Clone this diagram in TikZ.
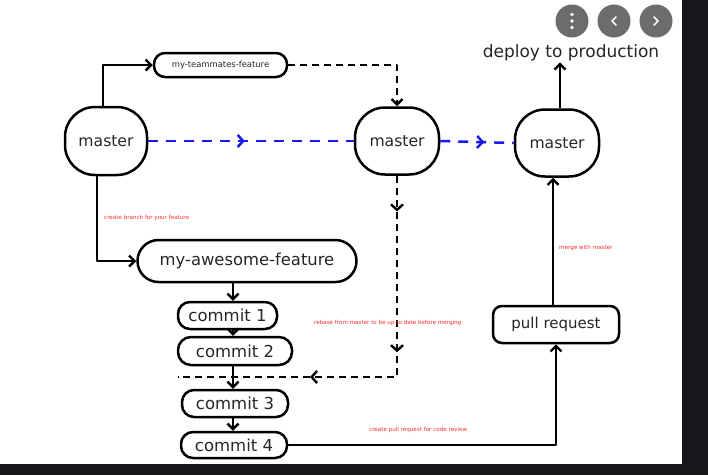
\documentclass[tikz,border=0pt]{standalone}
\usepackage{fontspec}
\setmainfont{DejaVu Sans}
\usetikzlibrary{arrows.meta,decorations.markings,calc}
\definecolor{lblred}{RGB}{250,45,45}
\definecolor{dashblue}{RGB}{25,25,235}
\definecolor{bgdark}{RGB}{23,24,27}
\definecolor{btngray}{RGB}{108,108,108}
\begin{document}
\begin{tikzpicture}[x=1pt,y=-1pt,
  blob/.style={draw,line width=2.5pt,inner sep=0pt,fill=white,text=black!85},
  conn/.style={line width=2.4pt,line join=round,-{Straight Barb[length=5.5pt,width=11pt]}},
  dsh/.style={line width=2.4pt,dash pattern=on 7pt off 5pt},
  bluedsh/.style={line width=2.5pt,dashblue,dash pattern=on 10pt off 8pt},
  lbl/.style={lblred,font=\fontsize{5.6}{6}\selectfont,anchor=west,inner sep=0pt},
  btn/.style={fill=btngray,draw=none}
]
\useasboundingbox (0,0) rectangle (708,475);
\fill[bgdark] (0,0) rectangle (708,475);
\fill[white] (0,0) rectangle (682,464);

% screenshot buttons
\fill[btn] (572,21) circle (16.5);
\fill[btn] (614,21) circle (16.5);
\fill[btn] (656,21) circle (16.5);
\fill[white] (572,14.5) circle (1.8) (572,21) circle (1.8) (572,27.5) circle (1.8);
\draw[white,line width=1.6pt,line cap=round,line join=round] (616,17) -- (612,21) -- (616,25);
\draw[white,line width=1.6pt,line cap=round,line join=round] (654,17) -- (658,21) -- (654,25);

% nodes
\node[blob,minimum width=82pt,minimum height=68pt,rounded corners=30pt,font=\fontsize{15.6}{18}\selectfont] (m1) at (106,141) {master};
\node[blob,minimum width=84pt,minimum height=67pt,rounded corners=30pt,font=\fontsize{15.6}{18}\selectfont] (m2) at (397,141) {master};
\node[blob,minimum width=84pt,minimum height=67pt,rounded corners=30pt,font=\fontsize{15.6}{18}\selectfont] (m3) at (557,143) {master};
\node[blob,minimum width=133pt,minimum height=24pt,rounded corners=11pt,font=\fontsize{8.4}{10}\selectfont] (tf) at (220.5,65) {my-teammates-feature};
\node[blob,minimum width=219pt,minimum height=42pt,rounded corners=21pt,font=\fontsize{16.4}{19}\selectfont] (aw) at (247,261) {my-awesome-feature};
\node[blob,minimum width=99pt,minimum height=27pt,rounded corners=12pt,font=\fontsize{16.5}{19}\selectfont] (c1) at (227.5,315.5) {commit 1};
\node[blob,minimum width=114pt,minimum height=28pt,rounded corners=13pt,font=\fontsize{16.5}{19}\selectfont] (c2) at (235,351) {commit 2};
\node[blob,minimum width=106pt,minimum height=27pt,rounded corners=12pt,font=\fontsize{16.5}{19}\selectfont] (c3) at (235,403.5) {commit 3};
\node[blob,minimum width=106pt,minimum height=26pt,rounded corners=12pt,font=\fontsize{16.5}{19}\selectfont] (c4) at (234,445) {commit 4};
\node[blob,minimum width=126pt,minimum height=37pt,rounded corners=9pt,font=\fontsize{15}{18}\selectfont] (pr) at (556,324.5) {pull request};
\node[text=black!85,font=\fontsize{17}{20}\selectfont,inner sep=1pt] (dp) at (571,53) {deploy to production};

\coordinate (colx) at (233,0);
\coordinate (rb) at (178,377);
\coordinate (mb) at (97,0);

% connectors
\draw[conn] ([xshift=-3pt]m1.north) |- (tf.west);
\draw[conn,dsh] (tf.east) -| (m2.north);
\draw[bluedsh,postaction={decorate},decoration={markings,mark=at position 0.47 with {\arrow{Straight Barb[length=5.5pt,width=12pt]}}}] (m1.east) -- (m2.west);
\draw[bluedsh,postaction={decorate},decoration={markings,mark=at position 0.6 with {\arrow{Straight Barb[length=5.5pt,width=12pt]}}}] (m2.east) -- (m3.west);
\draw[conn] ([xshift=3pt]m3.north) -- ([xshift=3pt]m3.north |- dp.south);
\draw[conn] (m1.south -| mb) |- (aw.west);
\draw[conn] (aw.south -| colx) -- (c1.north -| colx);
\draw[conn] (c1.south -| colx) -- (c2.north -| colx);
\draw[conn] (c2.south -| colx) -- (c3.north -| colx);
\draw[conn] (c3.south -| colx) -- (c4.north -| colx);
\draw[dsh,postaction={decorate},decoration={markings,
   mark=at position 0.085 with {\arrow{Straight Barb[length=5.5pt,width=12pt]}},
   mark=at position 0.42 with {\arrow{Straight Barb[length=5.5pt,width=12pt]}},
   mark=at position 0.686 with {\arrow{Straight Barb[length=5.5pt,width=12pt]}}}] (m2.south) |- (rb);
\draw[conn] (c4.east) -| (pr.south);
\draw[conn] ([xshift=-3pt]pr.north) -- ([xshift=-3pt]pr.north |- m3.south);

% labels
\node[lbl] (l1) at (104,218) {create branch for your feature};
\node[lbl] (l2) at (314,323) {rebase from master to be up to date before merging};
\node[lbl] (l3) at (369,430) {create pull request for code review};
\node[lbl] (l4) at (559,248) {merge with master};
\end{tikzpicture}
\end{document}
